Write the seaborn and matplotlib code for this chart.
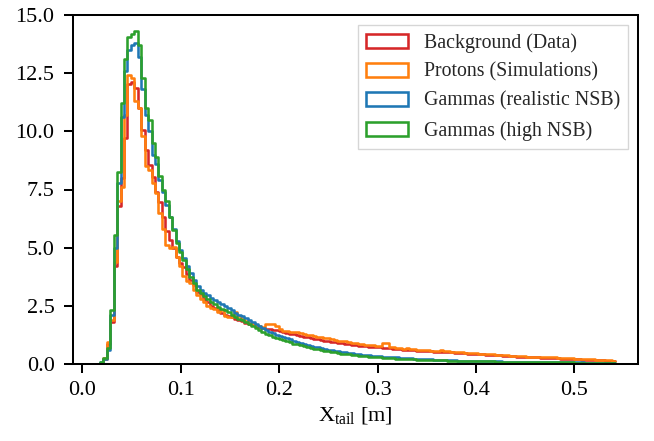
import numpy as np
import pandas as pd
import matplotlib
matplotlib.use("Agg")
import matplotlib.pyplot as plt
from matplotlib.patches import Patch
import seaborn as sns

# ---------------- data (density per bin) ----------------
bin_lo, bin_hi, n_bins = 0.018, 0.5415, 150

background_data = [
    0.05, 0.22, 0.85, 1.80, 4.20, 6.80, 8.00, 9.70, 12.05, 12.1,
    11.85, 11.0, 10.05, 9.2, 8.55, 8.05, 7.4, 6.95, 6.3, 5.7,
    5.35, 5.0, 4.6, 4.35, 4.15, 3.85, 3.6, 3.4, 3.1, 3.0,
    2.8, 2.65, 2.5, 2.4, 2.3, 2.2, 2.12, 2.05, 2.0, 1.95,
    1.9, 1.85, 1.78, 1.72, 1.66, 1.62, 1.58, 1.55, 1.52, 1.5,
    1.47, 1.44, 1.4, 1.36, 1.33, 1.3, 1.27, 1.24, 1.21, 1.18,
    1.15, 1.12, 1.09, 1.06, 1.04, 1.01, 0.99, 0.96, 0.94, 0.91,
    0.89, 0.87, 0.85, 0.83, 0.81, 0.79, 0.78, 0.76, 0.75, 0.73,
    0.72, 0.71, 0.70, 0.68, 0.67, 0.65, 0.64, 0.63, 0.62, 0.61,
    0.6, 0.59, 0.58, 0.57, 0.56, 0.55, 0.54, 0.53, 0.53, 0.53,
    0.52, 0.51, 0.5, 0.49, 0.48, 0.47, 0.46, 0.45, 0.44, 0.43,
    0.42, 0.41, 0.4, 0.39, 0.39, 0.38, 0.37, 0.36, 0.35, 0.34,
    0.33, 0.32, 0.32, 0.31, 0.3, 0.29, 0.28, 0.28, 0.27, 0.26,
    0.26, 0.25, 0.25, 0.24, 0.23, 0.22, 0.22, 0.21, 0.2, 0.2,
    0.19, 0.18, 0.18, 0.17, 0.17, 0.16, 0.16, 0.15, 0.15, 0.14,
]

protons_sim = [
    0.05, 0.24, 0.95, 1.90, 4.40, 7.00, 7.60, 10.7, 12.4, 12.3,
    11.3, 11.0, 9.8, 8.5, 8.35, 7.8, 7.35, 6.5, 5.8, 5.1,
    5.0, 5.05, 4.6, 4.2, 3.8, 3.55, 3.5, 3.2, 2.95, 2.8,
    2.65, 2.5, 2.4, 2.35, 2.25, 2.3, 2.05, 2.0, 2.0, 2.25,
    2.05, 1.95, 1.85, 1.78, 1.74, 1.68, 1.63, 1.6, 1.72, 1.72,
    1.7, 1.62, 1.5, 1.43, 1.4, 1.38, 1.36, 1.39, 1.33, 1.28,
    1.26, 1.23, 1.21, 1.18, 1.15, 1.12, 1.1, 1.07, 1.05, 1.01,
    0.99, 0.97, 0.95, 0.92, 0.9, 0.84, 0.85, 0.81, 0.80, 0.80,
    0.78, 0.78, 0.92, 0.90, 0.74, 0.71, 0.70, 0.68, 0.66, 0.67,
    0.63, 0.64, 0.61, 0.60, 0.62, 0.59, 0.57, 0.58, 0.56, 0.60,
    0.57, 0.55, 0.52, 0.50, 0.50, 0.52, 0.49, 0.48, 0.48, 0.46,
    0.44, 0.45, 0.43, 0.42, 0.43, 0.40, 0.39, 0.39, 0.38, 0.36,
    0.35, 0.34, 0.35, 0.33, 0.32, 0.31, 0.31, 0.32, 0.30, 0.29,
    0.29, 0.30, 0.30, 0.27, 0.26, 0.25, 0.25, 0.24, 0.23, 0.22,
    0.22, 0.21, 0.20, 0.20, 0.19, 0.18, 0.18, 0.17, 0.16, 0.15,
]

gammas_realistic = [
    0.08, 0.22, 0.60, 2.10, 5.00, 7.80, 10.6, 12.6, 13.5, 13.7,
    13.8, 13.2, 11.8, 10.7, 10.0, 9.0, 8.6, 7.9, 7.4, 6.85,
    6.3, 5.8, 5.3, 4.9, 4.55, 4.2, 3.9, 3.6, 3.35, 3.2,
    3.07, 2.95, 2.85, 2.75, 2.65, 2.57, 2.48, 2.40, 2.30, 2.20,
    2.12, 2.05, 1.97, 1.88, 1.79, 1.70, 1.62, 1.54, 1.46, 1.39,
    1.32, 1.26, 1.20, 1.14, 1.10, 1.06, 1.00, 0.95, 0.90, 0.86,
    0.82, 0.78, 0.74, 0.71, 0.68, 0.65, 0.62, 0.59, 0.56, 0.54,
    0.52, 0.50, 0.48, 0.46, 0.44, 0.42, 0.40, 0.39, 0.37, 0.36,
    0.34, 0.33, 0.32, 0.31, 0.30, 0.29, 0.28, 0.27, 0.26, 0.25,
    0.24, 0.23, 0.225, 0.215, 0.21, 0.20, 0.195, 0.19, 0.18, 0.175,
    0.165, 0.16, 0.157, 0.153, 0.15, 0.145, 0.14, 0.137, 0.133, 0.13,
    0.127, 0.123, 0.12, 0.117, 0.114, 0.111, 0.108, 0.105, 0.103, 0.10,
    0.098, 0.096, 0.094, 0.092, 0.09, 0.088, 0.086, 0.084, 0.082, 0.08,
    0.079, 0.077, 0.076, 0.074, 0.073, 0.071, 0.07, 0.069, 0.067, 0.066,
    0.065, 0.064, 0.063, 0.062, 0.061, 0.06, 0.059, 0.058, 0.057, 0.056,
]

gammas_high = [
    0.10, 0.24, 0.67, 2.32, 5.54, 8.26, 11.2, 13.1, 14.05, 14.2,
    14.3, 13.7, 12.3, 11.0, 10.5, 9.5, 8.9, 8.1, 7.5, 7.0,
    6.3, 5.76, 5.2, 4.8, 4.47, 4.1, 3.75, 3.47, 3.18, 3.05,
    2.92, 2.80, 2.68, 2.58, 2.47, 2.38, 2.30, 2.22, 2.12, 2.03,
    1.95, 1.88, 1.80, 1.72, 1.64, 1.55, 1.46, 1.38, 1.30, 1.23,
    1.17, 1.12, 1.07, 1.02, 0.97, 0.93, 0.88, 0.84, 0.80, 0.76,
    0.73, 0.70, 0.66, 0.63, 0.60, 0.57, 0.54, 0.52, 0.50, 0.47,
    0.45, 0.43, 0.41, 0.39, 0.37, 0.35, 0.34, 0.33, 0.31, 0.30,
    0.29, 0.28, 0.27, 0.26, 0.25, 0.24, 0.23, 0.225, 0.22, 0.21,
    0.205, 0.20, 0.19, 0.185, 0.18, 0.175, 0.17, 0.165, 0.16, 0.16,
    0.155, 0.15, 0.148, 0.145, 0.14, 0.135, 0.132, 0.128, 0.125, 0.122,
    0.12, 0.116, 0.113, 0.11, 0.108, 0.105, 0.102, 0.10, 0.098, 0.095,
    0.093, 0.09, 0.088, 0.086, 0.085, 0.083, 0.081, 0.08, 0.078, 0.076,
    0.075, 0.073, 0.072, 0.07, 0.069, 0.068, 0.066, 0.065, 0.064, 0.063,
    0.062, 0.061, 0.06, 0.059, 0.058, 0.057, 0.056, 0.055, 0.054, 0.053,
]

labels = ["Background (Data)", "Protons (Simulations)",
          "Gammas (realistic NSB)", "Gammas (high NSB)"]
series = [background_data, protons_sim, gammas_realistic, gammas_high]
colors = ["#d62728", "#ff7f0e", "#1f77b4", "#2ca02c"]

# ---------------- style ----------------
sns.set_theme(style="ticks")
plt.rcParams["font.family"] = ["Liberation Serif", "DejaVu Serif"]
plt.rcParams["mathtext.fontset"] = "custom"
plt.rcParams["mathtext.rm"] = "Liberation Serif"
plt.rcParams["mathtext.it"] = "Liberation Serif:italic"
plt.rcParams["axes.edgecolor"] = "black"
plt.rcParams["axes.linewidth"] = 1.45

fig = plt.figure(figsize=(6.54, 4.41), dpi=100)
ax = fig.add_axes([73.3 / 654, 77 / 441, 565 / 654, 349 / 441])

edges = np.linspace(bin_lo, bin_hi, n_bins + 1)
centers = 0.5 * (edges[:-1] + edges[1:])

for vals, col, lab in zip(series, colors, labels):
    df = pd.DataFrame({"x": centers, "w": vals})
    sns.histplot(data=df, x="x", weights="w", bins=edges.tolist(),
                 element="step", fill=False, stat="count", color=col,
                 linewidth=1.85, ax=ax)

ax.set_xlim(-0.00915, 0.565)
ax.set_ylim(0, 15)
ax.set_xticks([0.0, 0.1, 0.2, 0.3, 0.4, 0.5])
ax.set_yticks([0.0, 2.5, 5.0, 7.5, 10.0, 12.5, 15.0])
ax.set_xlabel(r"X$_{\mathrm{tail}}$ [m]", fontsize=16, color="black", labelpad=4)
ax.set_ylabel("")
ax.tick_params(axis="both", direction="out", length=6.5, width=1.45,
               labelsize=16, colors="black")
ax.tick_params(axis="x", pad=5.5)
ax.tick_params(axis="y", pad=7)
for s in ax.spines.values():
    s.set_visible(True)
    s.set_color("black")
    s.set_linewidth(1.45)

handles = [Patch(facecolor="none", edgecolor=c, linewidth=1.85, label=l)
           for c, l in zip(colors, labels)]
leg = ax.legend(handles=handles, loc="upper right", fontsize=14.3,
                handlelength=2.15, fancybox=False, frameon=True)
leg.get_frame().set_edgecolor("#cccccc")
leg.get_frame().set_linewidth(1.0)

fig.savefig("out.png", dpi=100)
